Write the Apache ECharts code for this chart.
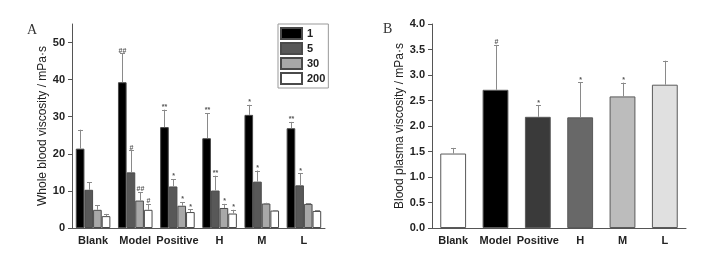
<!DOCTYPE html>
<html>
<head>
<meta charset="utf-8">
<script src="https://cdn.jsdelivr.net/npm/echarts@6/dist/echarts.min.js"></script>
<style>html,body{margin:0;padding:0;background:#fff}#c{width:722px;height:254px}</style>
</head>
<body>
<div id="c"></div>
<script>
// ---------- Panel A data ----------
const categoriesA = ['Blank', 'Model', 'Positive', 'H', 'M', 'L'];
const seriesNamesA = ['1', '5', '30', '200'];
const valuesA1 = [21.4, 39.3, 27.2, 24.2, 30.5, 26.9];
const valuesA5 = [10.3, 15.0, 11.2, 10.1, 12.5, 11.5];
const valuesA30 = [4.9, 7.4, 6.0, 5.4, 6.6, 6.5];
const valuesA200 = [3.2, 4.9, 4.3, 3.9, 4.7, 4.6];
const errTopA1 = [26.5, 47.1, 31.9, 31.0, 33.2, 28.6];
const errTopA5 = [12.3, 20.9, 13.2, 14.1, 15.5, 14.8];
const errTopA30 = [6.2, 9.7, 7.0, 6.5, 6.8, 6.7];
const errTopA200 = [3.8, 6.5, 5.1, 4.9, 4.8, 4.8];
const sigA1 = ['', '##', '**', '**', '*', '**'];
const sigA5 = ['', '#', '*', '**', '*', '*'];
const sigA30 = ['', '##', '*', '*', '', ''];
const sigA200 = ['', '#', '*', '*', '', ''];
const yTicksA = [0, 10, 20, 30, 40, 50];

// ---------- Panel B data ----------
const categoriesB = ['Blank', 'Model', 'Positive', 'H', 'M', 'L'];
const valuesB = [1.46, 2.71, 2.18, 2.17, 2.58, 2.81];
const errTopB = [1.57, 3.59, 2.41, 2.86, 2.85, 3.28];
const sigB = ['', '#', '*', '*', '*', ''];
const yTicksB = [0, 0.5, 1.0, 1.5, 2.0, 2.5, 3.0, 3.5, 4.0];

const colorsA = ['#000000', '#585858', '#a8a8a8', '#ffffff'];
const colorsB = ['#ffffff', '#000000', '#3a3a3a', '#686868', '#bcbcbc', '#e0e0e0'];

const chart = echarts.init(document.getElementById('c'), null, {renderer: 'canvas'});

const catGapA = 0.18;
const valsA = [valuesA1, valuesA5, valuesA30, valuesA200];
const errsA = [errTopA1, errTopA5, errTopA30, errTopA200];
const sigsA = [sigA1, sigA5, sigA30, sigA200];

function errRender(k, n, gapFrac, sigArr) {
  return function (params, api) {
    const ci = api.value(0), v = api.value(1), e = api.value(2);
    const band = api.size([1, 0])[0];
    const bw = band * (1 - gapFrac) / n;
    const base = api.coord([ci, v]);
    const top = api.coord([ci, e]);
    const x = Math.round(base[0] + (k - (n - 1) / 2) * bw) + 0.5;
    const children = [
      {type: 'line', shape: {x1: x, y1: base[1], x2: x, y2: top[1]}, style: {stroke: '#8a8a8a', lineWidth: 1}},
      {type: 'line', shape: {x1: x - 2.5, y1: Math.round(top[1]) + 0.5, x2: x + 2.5, y2: Math.round(top[1]) + 0.5}, style: {stroke: '#8a8a8a', lineWidth: 1}}
    ];
    const s = sigArr[params.dataIndex];
    if (s) {
      children.push({type: 'text', style: {text: s, x: x, y: top[1] + 1, align: 'center', verticalAlign: 'bottom',
        font: 'bold 7px "Liberation Sans", Arial, sans-serif', fill: '#555'}});
    }
    return {type: 'group', children: children};
  };
}

const series = [];
valsA.forEach(function (arr, k) {
  series.push({
    name: seriesNamesA[k], type: 'bar', xAxisIndex: 0, yAxisIndex: 0,
    data: arr, barGap: '0%', barCategoryGap: (catGapA * 100) + '%',
    itemStyle: {color: colorsA[k], borderColor: '#4a4a4a', borderWidth: 1},
    emphasis: {disabled: true}
  });
});
valsA.forEach(function (arr, k) {
  series.push({
    name: 'errA' + k, type: 'custom', xAxisIndex: 0, yAxisIndex: 0, z: 5,
    data: arr.map(function (v, i) { return [i, v, errsA[k][i]]; }),
    renderItem: errRender(k, 4, catGapA, sigsA[k])
  });
});
series.push({
  name: 'B', type: 'bar', xAxisIndex: 1, yAxisIndex: 1,
  data: valuesB.map(function (v, i) { return {value: v, itemStyle: {color: colorsB[i]}}; }),
  barCategoryGap: '39%',
  itemStyle: {borderColor: '#5a5a5a', borderWidth: 1},
  emphasis: {disabled: true}
});
series.push({
  name: 'errB', type: 'custom', xAxisIndex: 1, yAxisIndex: 1, z: 5,
  data: valuesB.map(function (v, i) { return [i, v, errTopB[i]]; }),
  renderItem: errRender(0, 1, 0.39, sigB)
});

const axisLabelStyle = {fontFamily: '"Liberation Sans", Arial, sans-serif', fontWeight: 'bold', fontSize: 11, color: '#222'};
const axisLineStyle = {lineStyle: {color: '#555', width: 1}};

chart.setOption({
  animation: false,
  backgroundColor: '#fff',
  title: [
    {text: 'A', left: 22, top: 18, textStyle: {fontFamily: '"Liberation Serif", serif', fontWeight: 'normal', fontSize: 14, color: '#333'}},
    {text: 'B', left: 378, top: 17, textStyle: {fontFamily: '"Liberation Serif", serif', fontWeight: 'normal', fontSize: 14, color: '#333'}}
  ],
  legend: {
    data: seriesNamesA, orient: 'vertical', left: 278, top: 24,
    itemWidth: 21, itemHeight: 11, itemGap: 2, padding: [3, 3, 3, 2],
    borderColor: '#999', borderWidth: 1, icon: 'rect', selectedMode: false,
    textStyle: {fontFamily: '"Liberation Sans", Arial, sans-serif', fontWeight: 'bold', fontSize: 11, color: '#222'}
  },
  grid: [
    {left: 72, top: 24, width: 253, height: 204, containLabel: false},
    {left: 432, top: 24, width: 254, height: 204, containLabel: false}
  ],
  xAxis: [
    {type: 'category', gridIndex: 0, data: categoriesA, axisLine: axisLineStyle,
      axisTick: {alignWithLabel: true, length: 4, lineStyle: {color: '#555'}},
      axisLabel: Object.assign({margin: 7, interval: 0}, axisLabelStyle)},
    {type: 'category', gridIndex: 1, data: categoriesB, axisLine: axisLineStyle,
      axisTick: {alignWithLabel: true, length: 4, lineStyle: {color: '#555'}},
      axisLabel: Object.assign({margin: 7, interval: 0}, axisLabelStyle)}
  ],
  yAxis: [
    {type: 'value', gridIndex: 0, min: 0, max: 55, interval: 10,
      name: 'Whole blood viscosity / mPa·s', nameLocation: 'middle', nameGap: 16,
      nameTextStyle: {fontFamily: '"Liberation Sans", Arial, sans-serif', fontSize: 12, color: '#222'},
      axisLine: {show: true, lineStyle: {color: '#555'}},
      axisTick: {show: true, length: 4, lineStyle: {color: '#555'}, customValues: yTicksA},
      axisLabel: Object.assign({margin: 7, customValues: yTicksA}, axisLabelStyle),
      splitLine: {show: false}},
    {type: 'value', gridIndex: 1, min: 0, max: 4, interval: 0.5,
      name: 'Blood plasma viscosity / mPa·s', nameLocation: 'middle', nameGap: 25,
      nameTextStyle: {fontFamily: '"Liberation Sans", Arial, sans-serif', fontSize: 12, color: '#222'},
      axisLine: {show: true, lineStyle: {color: '#555'}},
      axisTick: {show: true, length: 4, lineStyle: {color: '#555'}, customValues: yTicksB},
      axisLabel: Object.assign({margin: 7, customValues: yTicksB, formatter: function (v) { return v.toFixed(1); }}, axisLabelStyle),
      splitLine: {show: false}}
  ],
  series: series
});
</script>
</body>
</html>
